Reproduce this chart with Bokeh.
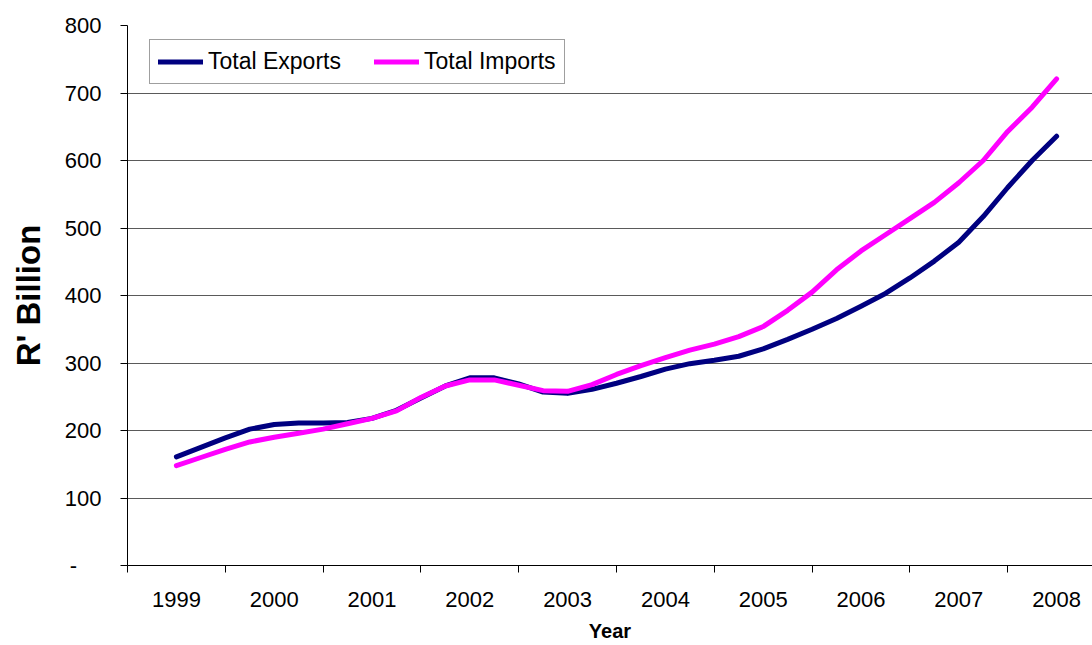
from bokeh.plotting import figure
from bokeh.models import Range1d, FixedTicker
from bokeh.embed import file_html
from bokeh.resources import INLINE

# ---- data ----
years = [1999, 2000, 2001, 2002, 2003, 2004, 2005, 2006, 2007, 2008]
year_labels = ["1999", "2000", "2001", "2002", "2003", "2004", "2005", "2006", "2007", "2008"]
# quarterly positions, 1999 Q1 .. 2008 Q1
quarter_x = [1999 + q / 4 for q in range(37)]
exports = [161, 175, 189, 202, 209, 211, 211, 212, 218, 230,
           248, 266, 278, 278, 269, 257, 255, 261, 270, 280,
           291, 299, 304, 310, 321, 335, 350, 366, 384, 403,
           426, 451, 479, 517, 560, 600, 636]
imports = [148, 160, 172, 183, 190, 196, 202, 210, 218, 229,
           249, 266, 275, 275, 267, 259, 258, 268, 283, 296,
           308, 319, 328, 339, 354, 378, 405, 438, 466, 490,
           514, 538, 567, 600, 643, 679, 721]
y_ticks = [0, 100, 200, 300, 400, 500, 600, 700, 800]
y_labels = ["-\u00a0\u00a0\u00a0\u00a0", "100", "200", "300", "400", "500", "600", "700", "800"]
series_names = ["Total Exports", "Total Imports"]
series_colors = ["#000080", "#FF00FF"]

FONT = "Liberation Sans"

p = figure(width=1092, height=645, output_backend="svg", toolbar_location=None,
           x_range=Range1d(1998.5, 2008.367), y_range=Range1d(0, 800),
           min_border_left=127, min_border_right=0, min_border_top=25, min_border_bottom=80)
p.outline_line_color = None
p.background_fill_color = "white"
p.border_fill_color = "white"

# grid
p.xgrid.visible = False
p.ygrid.grid_line_color = "#5a5a5a"
p.ygrid.grid_line_width = 1

# y axis
p.yaxis.ticker = FixedTicker(ticks=y_ticks)
p.yaxis.major_label_overrides = {t: l for t, l in zip(y_ticks, y_labels)}
p.yaxis.major_tick_out = 7
p.yaxis.major_tick_in = 0
p.yaxis.minor_tick_line_color = None
p.yaxis.axis_line_color = "black"
p.yaxis.major_tick_line_color = "black"
p.yaxis.major_label_standoff = 19
p.yaxis.major_label_text_font = FONT
p.yaxis.major_label_text_font_size = "22px"
p.yaxis.major_label_text_color = "black"
p.yaxis.axis_label = "R' Billion"
p.yaxis.axis_label_text_font = FONT
p.yaxis.axis_label_text_font_style = "bold"
p.yaxis.axis_label_text_font_size = "33px"
p.yaxis.axis_label_text_color = "black"
p.yaxis.axis_label_standoff = 15

# x axis
p.xaxis.ticker = FixedTicker(ticks=years, minor_ticks=[y - 0.5 for y in years] + [2008.5])
p.xaxis.major_label_overrides = {y: l for y, l in zip(years, year_labels)}
p.xaxis.major_tick_out = 0
p.xaxis.major_tick_in = 0
p.xaxis.major_tick_line_color = None
p.xaxis.minor_tick_out = 7
p.xaxis.minor_tick_in = 0
p.xaxis.minor_tick_line_color = "black"
p.xaxis.axis_line_color = "black"
p.xaxis.major_label_standoff = 19
p.xaxis.major_label_text_font = FONT
p.xaxis.major_label_text_font_size = "22px"
p.xaxis.major_label_text_color = "black"
p.xaxis.axis_label = "Year"
p.xaxis.axis_label_text_font = FONT
p.xaxis.axis_label_text_font_style = "bold"
p.xaxis.axis_label_text_font_size = "20px"
p.xaxis.axis_label_text_color = "black"
p.xaxis.axis_label_standoff = 10

# lines
for vals, name, col in zip([exports, imports], series_names, series_colors):
    p.line(quarter_x, vals, line_color=col, line_width=5, line_cap="round",
           line_join="round", legend_label=name)

lg = p.legend[0]
lg.orientation = "horizontal"
lg.location = (22, 481)
lg.margin = 0
lg.padding = 8
lg.spacing = 33
lg.glyph_width = 45
lg.glyph_height = 21
lg.label_standoff = 5
lg.label_text_font = FONT
lg.label_text_font_size = "23px"
lg.label_text_color = "black"
lg.border_line_color = "#404040"
lg.border_line_width = 1
lg.background_fill_color = "white"
lg.background_fill_alpha = 1.0

open("out.html", "w").write(file_html(p, INLINE))
